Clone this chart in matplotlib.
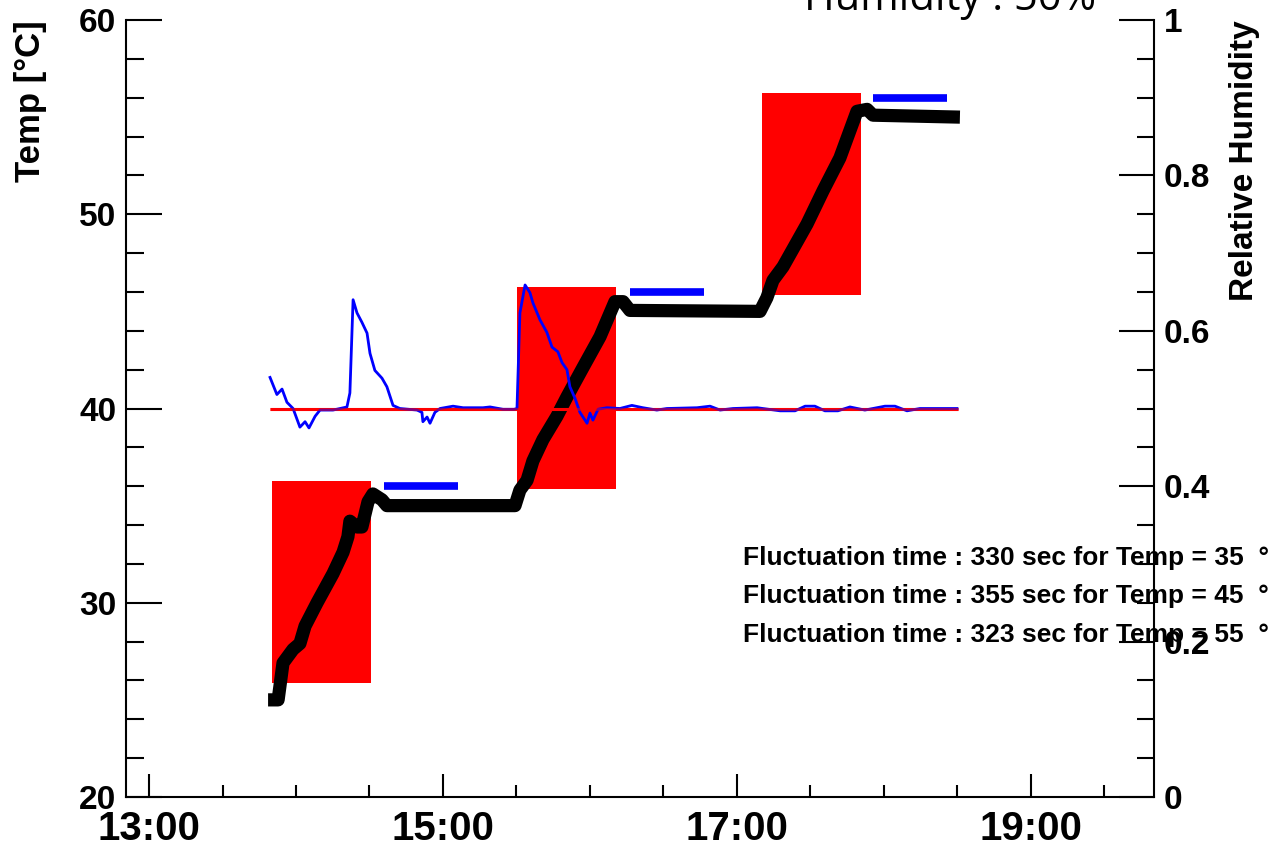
import numpy as np
import matplotlib
matplotlib.use("Agg")
import matplotlib.pyplot as plt
from matplotlib.ticker import FixedLocator, MultipleLocator

plt.rcParams["font.family"] = ["Liberation Sans", "DejaVu Sans"]
plt.rcParams["font.weight"] = "bold"

# temperature trace (minutes after 13:00, deg C)
temp_min = [48.6, 52.7, 54.7, 58.8, 61.6, 63.7, 68.6, 75.1, 79.2, 81.2, 82.0, 84.9,
            86.9, 89.4, 91.4, 95.1, 97.1, 149.4,
            151.4, 154.3, 156.7, 160.8, 166.5, 170.6, 177.1, 184.1, 190.2, 193.5,
            196.3, 249.4,
            252.2, 254.7, 258.8, 268.6, 275.1, 282.0, 289.0, 293.1, 295.5, 331.0]
temp_val = [25.0, 25.0, 26.9, 27.6, 27.9, 28.8, 30.0, 31.5, 32.6, 33.4, 34.2, 33.9,
            33.9, 35.2, 35.6, 35.3, 35.0, 35.0,
            35.8, 36.3, 37.3, 38.4, 39.6, 40.6, 42.1, 43.7, 45.5, 45.5,
            45.05, 45.0,
            45.7, 46.6, 47.3, 49.5, 51.2, 52.9, 55.3, 55.4, 55.1, 55.0]

# relative humidity trace (minutes after 13:00, fraction)
hum_min = [49.4, 52.2, 54.3, 56.3, 58.8, 61.6, 63.7, 65.3, 67.8, 69.8, 75.1, 78.0,
           80.8, 82.0, 83.3, 84.9, 86.9, 89.0, 90.2, 92.2, 95.1, 97.1, 99.6, 102.4,
           109.4, 111.4, 111.8, 113.5, 114.7, 116.7, 118.8, 124.1, 128.2, 136.3,
           139.2, 144.5, 149.0, 150.2, 151.4, 153.5, 155.5, 156.7, 159.6, 162.4,
           164.5, 166.9, 168.6, 170.6, 171.8, 173.9, 175.9, 178.8, 180.0, 181.2,
           183.3, 186.9, 192.2, 197.1, 201.6, 207.3, 211.4, 223.7, 229.0, 233.1,
           238.4, 248.2, 257.6, 263.7, 267.8, 271.8, 275.9, 281.2, 286.1, 292.2,
           300.4, 304.5, 309.4, 314.7, 329.8]
hum_val = [0.540, 0.518, 0.525, 0.508, 0.500, 0.476, 0.483, 0.475, 0.490, 0.498, 0.498, 0.500,
           0.502, 0.520, 0.640, 0.623, 0.611, 0.597, 0.571, 0.549, 0.539, 0.528, 0.504, 0.500,
           0.498, 0.495, 0.483, 0.489, 0.481, 0.495, 0.500, 0.503, 0.501, 0.501,
           0.502, 0.499, 0.499, 0.500, 0.623, 0.659, 0.649, 0.636, 0.614, 0.598,
           0.579, 0.573, 0.559, 0.550, 0.528, 0.513, 0.495, 0.481, 0.494, 0.485,
           0.499, 0.501, 0.500, 0.504, 0.501, 0.498, 0.500, 0.501, 0.503, 0.498,
           0.500, 0.501, 0.497, 0.497, 0.503, 0.503, 0.497, 0.497, 0.502, 0.498,
           0.503, 0.503, 0.497, 0.500, 0.500]

# ramp windows (red boxes)
box_start = [50.2, 150.2, 250.2]
box_width = [40.4, 40.4, 40.4]
box_low = [25.85, 35.85, 45.85]
box_high = [36.25, 46.25, 56.25]

# blue marks above plateaus
mark_start = [95.9, 196.3, 295.5]
mark_end = [126.1, 226.5, 325.7]
mark_temp = [36.0, 46.0, 56.0]

target_hum = 0.5
target_start, target_end = 49.4, 330.2

fluct_sec = [330, 355, 323]
fluct_temp = [35, 45, 55]

xtick_hours = [13, 15, 17, 19]
xtick_labels = ["13:00", "15:00", "17:00", "19:00"]


def hrs(m):
    return 13 + np.asarray(m) / 60.0


fig = plt.figure(figsize=(12.68, 8.42), dpi=100)
ax = fig.add_axes([126 / 1268, 1 - 797 / 842, (1154 - 126) / 1268, (797 - 20) / 842])
ax2 = ax.twinx()

ax.bar(hrs(box_start), np.subtract(box_high, box_low), width=np.asarray(box_width) / 60,
       bottom=box_low, align="edge", color="red", zorder=1)
ax.plot(hrs(temp_min), temp_val, color="black", lw=9.5, solid_joinstyle="round",
        solid_capstyle="butt", zorder=2)
ax.hlines(mark_temp, hrs(mark_start), hrs(mark_end), color="blue", lw=5.5, zorder=3)

ax2.hlines(target_hum, hrs(target_start), hrs(target_end), color="red", lw=2.2)
ax2.plot(hrs(hum_min), hum_val, color="blue", lw=2.0)
ax2.hlines(target_hum, hrs(target_start), hrs(target_end), color="red", lw=2.2, alpha=0.5)

for i, (s, t) in enumerate(zip(fluct_sec, fluct_temp)):
    ax.text(743 / 1268, 1 - (565 + 38.5 * i) / 842,
            f"Fluctuation time : {s} sec for Temp = {t}  \u00b0",
            transform=fig.transFigure, fontsize=19, fontweight="bold",
            ha="left", va="baseline", clip_on=False, zorder=4)

ax.set_xlim(12.8435, 19.837)
ax.set_ylim(20, 60)
ax2.set_ylim(0, 1)

ax.xaxis.set_major_locator(FixedLocator(xtick_hours))
ax.set_xticklabels(xtick_labels)
ax.xaxis.set_minor_locator(MultipleLocator(0.5))
ax.yaxis.set_major_locator(MultipleLocator(10))
ax.yaxis.set_minor_locator(MultipleLocator(2))
ax2.yaxis.set_minor_locator(MultipleLocator(0.05))
ax2.set_yticks([0, 0.2, 0.4, 0.6, 0.8, 1.0])
ax2.set_yticklabels(["0", "0.2", "0.4", "0.6", "0.8", "1"])

ax.tick_params(axis="x", which="major", direction="in", length=16.5, width=1.5,
               pad=9, labelsize=29)
ax.tick_params(axis="x", which="minor", direction="in", length=8.3, width=1.5)
ax.tick_params(axis="y", which="major", direction="in", length=26, width=1.5,
               pad=7, labelsize=24)
ax.tick_params(axis="y", which="minor", direction="in", length=13, width=1.5)
ax2.tick_params(axis="y", which="major", direction="in", length=25, width=1.5,
                pad=7, labelsize=24)
ax2.tick_params(axis="y", which="minor", direction="in", length=12.5, width=1.5)

for a in (ax, ax2):
    a.spines["top"].set_visible(False)
    for sp in a.spines.values():
        sp.set_linewidth(1.5)
ax.spines["right"].set_visible(False)
ax2.spines["left"].set_visible(False)
ax2.spines["bottom"].set_visible(False)

fig.text(14 / 1268, 1 - 20 / 842, "Temp [\u00b0C]", rotation=90, ha="left", va="top",
         fontsize=25, fontweight="bold")
fig.text(1229 / 1268, 1 - 20 / 842, "Relative Humidity", rotation=90, ha="left",
         va="top", fontsize=24, fontweight="bold")
fig.text(950 / 1268, 1 - 10 / 842, "Humidity : 50%", ha="center", va="baseline",
         fontsize=30, fontweight="normal", family=["Open Sans", "DejaVu Sans"])

fig.savefig("out.png", dpi=100)
